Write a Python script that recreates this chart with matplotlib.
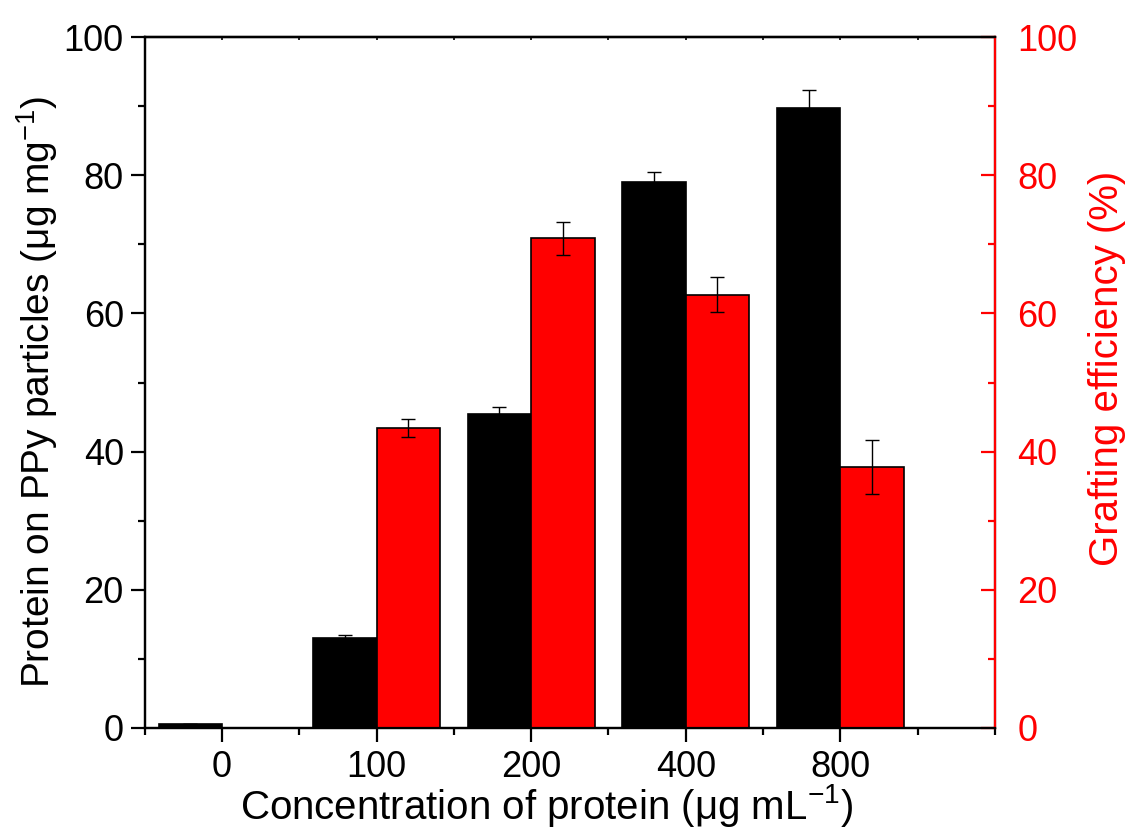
import numpy as np
import matplotlib
matplotlib.use("Agg")
import matplotlib.pyplot as plt
from matplotlib.ticker import MultipleLocator

plt.rcParams['font.family'] = ['Liberation Sans', 'DejaVu Sans']
plt.rcParams['mathtext.fontset'] = 'custom'
plt.rcParams['mathtext.rm'] = 'Liberation Sans'
plt.rcParams['mathtext.default'] = 'regular'

# data
concentrations = ['0', '100', '200', '400', '800']
protein_loaded = [0.6, 13.0, 45.5, 79.0, 89.8]      # ug/mg, left axis
protein_err = [0.0, 0.4, 1.0, 1.4, 2.6]
grafting_eff = [0.0, 43.4, 70.9, 62.7, 37.8]        # %, right axis
grafting_err = [0.0, 1.3, 2.4, 2.5, 3.9]

x = np.arange(len(concentrations))
width = 0.41
red = '#ff0000'

fig = plt.figure(figsize=(11.3, 8.38), dpi=100)
ax = fig.add_axes([0.128, 0.1313, 0.7525, 0.8245])
ax2 = ax.twinx()

err_kw = dict(ecolor='black', elinewidth=1.0, capsize=5, capthick=1.0)
ax.bar(x - width / 2, protein_loaded, width, yerr=protein_err, color='black',
       edgecolor='black', linewidth=1.2, error_kw=err_kw)
ax2.bar(x + width / 2, grafting_eff, width, yerr=grafting_err, color=red,
        edgecolor='black', linewidth=1.2, error_kw=err_kw)

ax.set_xlim(-0.5, 5.0)
ax.set_ylim(0, 100)
ax2.set_ylim(0, 100)

ax.set_xticks(x)
ax.set_xticklabels(concentrations)
ax.xaxis.set_minor_locator(MultipleLocator(0.5))
for a in (ax, ax2):
    a.yaxis.set_major_locator(MultipleLocator(20))
    a.yaxis.set_minor_locator(MultipleLocator(10))
    for sp in a.spines.values():
        sp.set_linewidth(1.6)
ax2.spines['right'].set_color(red)

ax.tick_params(axis='y', which='major', direction='out', length=10, width=1.6,
               labelsize=26, pad=5, right=False)
ax.tick_params(axis='y', which='minor', direction='out', length=5, width=1.6, right=False)
ax.tick_params(axis='x', which='major', direction='out', length=10, width=1.6,
               labelsize=26, pad=6, top=False)
ax.tick_params(axis='x', which='minor', direction='out', length=5, width=1.6, top=False)
ax2.tick_params(axis='y', which='major', direction='in', length=10, width=1.6,
                labelsize=26, pad=16, colors=red)
ax2.tick_params(axis='y', which='minor', direction='in', length=5, width=1.6,
                colors=red)

# tiny inward ticks along the top frame
top = ax.secondary_xaxis('top')
top.set_xticks(x)
top.xaxis.set_minor_locator(MultipleLocator(0.5))
top.tick_params(which='both', direction='in', length=2.5, width=1.2, labeltop=False)
top.spines['top'].set_linewidth(1.6)

ax.set_xlabel('Concentration of protein (μg mL$^{-1}$)', fontsize=29, labelpad=-2)
ax.set_ylabel('Protein on PPy particles (μg mg$^{-1}$)', fontsize=28, labelpad=3)
ax2.set_ylabel('Grafting efficiency (%)', fontsize=29, color=red, labelpad=8)

# shift labels to where the reference has them
ax.xaxis.label.set_x(0.473)
ax.yaxis.label.set_y(0.487)
ax2.yaxis.label.set_y(0.52)

fig.savefig('out.png', dpi=100)
